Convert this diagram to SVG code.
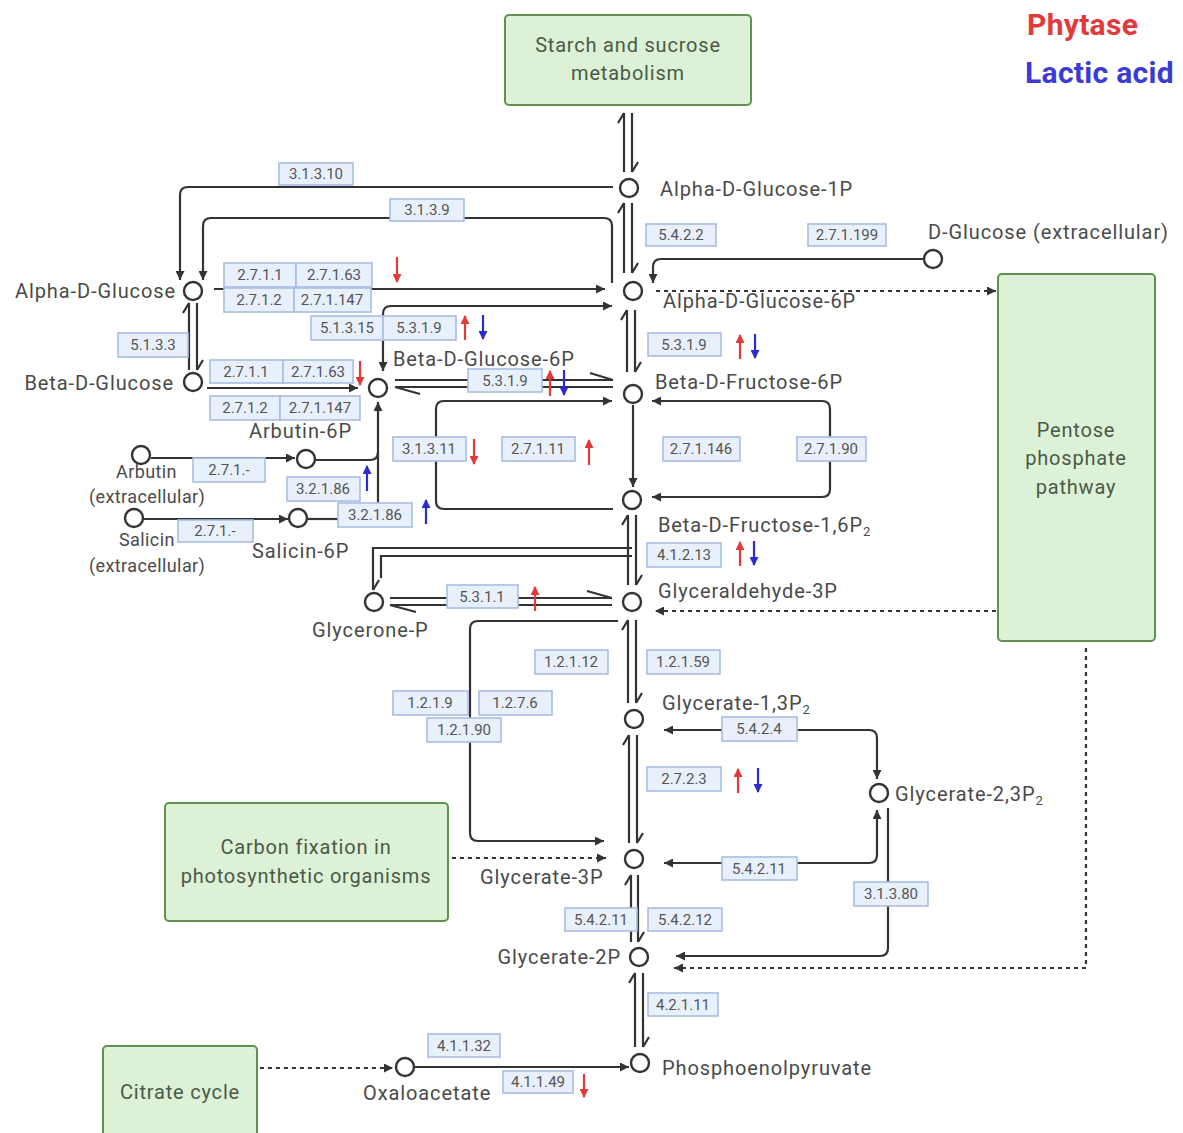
<svg xmlns="http://www.w3.org/2000/svg" width="1183" height="1133" viewBox="0 0 1183 1133">
<defs>
<style>
.ln{fill:none;stroke:#333;stroke-width:2.2}
.dl{fill:none;stroke:#333;stroke-width:2.2;stroke-dasharray:4 4}
.nd{fill:#fff;stroke:#333;stroke-width:2.4}
.ez rect{fill:#e8f0fb;stroke:#a9bde3;stroke-width:1.6}
.ez text{font-family:Roboto,"Liberation Sans",sans-serif;font-size:15px;fill:#555;text-anchor:middle}
.lb{font-family:Roboto,"Liberation Sans",sans-serif;font-size:20px;letter-spacing:0.9px;fill:#4a4a4a}
.sm{font-family:Roboto,"Liberation Sans",sans-serif;font-size:18px;letter-spacing:0.4px;fill:#4a4a4a}
.bx rect{fill:#dcf1d5;stroke:#5f9150;stroke-width:2}
.bx text{font-family:Roboto,"Liberation Sans",sans-serif;font-size:20px;letter-spacing:0.8px;fill:#4a5a48;text-anchor:middle}
.ra{fill:none;stroke:#e23a3a;stroke-width:2.2}
.ba{fill:none;stroke:#2b2bcf;stroke-width:2.2}
</style>
<marker id="ah" viewBox="0 0 10 10" refX="10" refY="5" markerWidth="10" markerHeight="9" markerUnits="userSpaceOnUse" orient="auto-start-reverse"><path d="M0,0 L10,5 L0,10 Z" fill="#333"/></marker>
<marker id="mr" viewBox="0 0 10 10" refX="9" refY="5" markerWidth="10" markerHeight="9" markerUnits="userSpaceOnUse" orient="auto"><path d="M0,0 L10,5 L0,10 Z" fill="#e23a3a"/></marker>
<marker id="mb" viewBox="0 0 10 10" refX="9" refY="5" markerWidth="10" markerHeight="9" markerUnits="userSpaceOnUse" orient="auto"><path d="M0,0 L10,5 L0,10 Z" fill="#2b2bcf"/></marker>
</defs>
<rect width="1183" height="1133" fill="#fff"/>

<!-- legend -->
<text x="1027" y="35" font-family="Roboto,'Liberation Sans',sans-serif" font-size="30" font-weight="bold" letter-spacing="0.3" fill="#e23a3a">Phytase</text>
<text x="1025" y="83" font-family="Roboto,'Liberation Sans',sans-serif" font-size="30" font-weight="bold" letter-spacing="0.3" fill="#3a3ad6">Lactic acid</text>

<!-- pathway boxes -->
<g id="starch" class="bx"><rect x="505" y="15" width="246" height="90" rx="4"/><text x="628" y="52">Starch and sucrose</text><text x="628" y="80">metabolism</text></g>
<g id="pentose" class="bx"><rect x="998" y="274" width="157" height="367" rx="4"/><text x="1076" y="437">Pentose</text><text x="1076" y="465">phosphate</text><text x="1076" y="494">pathway</text></g>
<g id="carbon" class="bx"><rect x="165" y="803" width="283" height="118" rx="4"/><text x="306" y="854">Carbon fixation in</text><text x="306" y="883">photosynthetic organisms</text></g>
<g id="citrate" class="bx"><rect x="103" y="1046" width="154" height="95" rx="4"/><text x="180" y="1099">Citrate cycle</text></g>

<!-- connectors -->
<g id="connectors">
<path class="ln" d="M624,113 V172 M624,113 L618,123 M632,113 V172 M632,172 L638,162"/>
<path class="ln" d="M624,203 V273 M624,203 L618,213 M632,203 V273 M632,273 L638,263"/>
<path class="ln" d="M627,310 V372 M627,310 L621,320 M635,310 V372 M635,372 L641,362"/>
<path class="ln" d="M628,515 V585 M628,515 L622,525 M636,515 V585 M636,585 L642,575"/>
<path class="ln" d="M628,620 V703 M628,620 L622,630 M636,620 V703 M636,703 L642,693"/>
<path class="ln" d="M629,735 V843 M629,735 L623,745 M637,735 V843 M637,843 L643,833"/>
<path class="ln" d="M631,875 V942 M631,875 L625,885 M638,875 V942 M638,942 L644,932"/>
<path class="ln" d="M635,973 V1047 M635,973 L629,983 M643,973 V1047 M643,1047 L649,1037"/>
<path class="ln" d="M189,303 V370 M189,303 L183,313 M197,303 V370 M197,370 L203,360"/>
<path class="ln" d="M395,380 H613 M613,380 L590,373 M395,387 H613 M395,387 L420,394"/>
<path class="ln" d="M390,598 H612 M612,598 L587,591 M390,605 H612 M390,605 L416,612"/>
<path class="ln" d="M632,548 H373 V590 M373,590 L379,580 M632,556 H381 V578"/>
<path class="ln" d="M633,405 V487" marker-end="url(#ah)"/>
<path class="ln" d="M613,509 H444 Q436,509 436,501 V409 Q436,401 444,401 H612" marker-end="url(#ah)"/>
<path class="ln" d="M652,401 H822 Q830,401 830,409 V489 Q830,497 822,497 H652" marker-start="url(#ah)" marker-end="url(#ah)"/>
<path class="ln" d="M613,187 H188 Q180,187 180,195 V280" marker-end="url(#ah)"/>
<path class="ln" d="M612,283 V226 Q612,218 604,218 H211 Q203,218 203,226 V280" marker-end="url(#ah)"/>
<path class="ln" d="M214,289 H605" marker-end="url(#ah)"/>
<path class="ln" d="M383,371 V314 Q383,306 391,306 H612" marker-start="url(#ah)" marker-end="url(#ah)"/>
<path class="ln" d="M207,388 H358" marker-end="url(#ah)"/>
<path class="ln" d="M378,503 V402" marker-end="url(#ah)"/>
<path class="ln" d="M316,460 H370 Q378,460 378,452"/>
<path class="ln" d="M308,519 H338"/>
<path class="ln" d="M151,458 H295" marker-end="url(#ah)"/>
<path class="ln" d="M143,519 H288" marker-end="url(#ah)"/>
<path class="ln" d="M923,259 H661 Q653,259 653,267 V283" marker-end="url(#ah)"/>
<path class="ln" d="M618,621 H478 Q470,621 470,629 V833 Q470,841 478,841 H604" marker-end="url(#ah)"/>
<path class="ln" d="M877,779 V738 Q877,730 869,730 H664" marker-start="url(#ah)" marker-end="url(#ah)"/>
<path class="ln" d="M877,810 V855 Q877,863 869,863 H664" marker-start="url(#ah)" marker-end="url(#ah)"/>
<path class="ln" d="M888,808 V948 Q888,956 880,956 H676" marker-end="url(#ah)"/>
<path class="ln" d="M415,1067 H629" marker-end="url(#ah)"/>
<path class="dl" d="M656,291 H996" marker-end="url(#ah)"/>
<path class="dl" d="M996,611 H655" marker-end="url(#ah)"/>
<path class="dl" d="M1086,648 V968 H674" marker-end="url(#ah)"/>
<path class="dl" d="M452,858 H606" marker-end="url(#ah)"/>
<path class="dl" d="M260,1068 H393" marker-end="url(#ah)"/>
</g>

<!-- enzyme labels -->
<g id="enzymes" class="ez">
<g><rect x="279" y="163" width="74" height="22"/><text x="316" y="179">3.1.3.10</text></g>
<g><rect x="390" y="199" width="74" height="22"/><text x="427" y="215">3.1.3.9</text></g>
<g><rect x="646" y="224" width="70" height="22"/><text x="681" y="240">5.4.2.2</text></g>
<g><rect x="808" y="224" width="78" height="22"/><text x="847" y="240">2.7.1.199</text></g>
<g><rect x="224" y="263" width="72" height="24"/><text x="260" y="280">2.7.1.1</text></g>
<g><rect x="296" y="263" width="76" height="24"/><text x="334" y="280">2.7.1.63</text></g>
<g><rect x="224" y="288" width="70" height="24"/><text x="259" y="305">2.7.1.2</text></g>
<g><rect x="294" y="288" width="77" height="24"/><text x="332" y="305">2.7.1.147</text></g>
<g><rect x="311" y="316" width="72" height="24"/><text x="347" y="333">5.1.3.15</text></g>
<g><rect x="383" y="316" width="73" height="24"/><text x="419" y="333">5.3.1.9</text></g>
<g><rect x="118" y="333" width="70" height="24"/><text x="153" y="350">5.1.3.3</text></g>
<g><rect x="210" y="360" width="73" height="23"/><text x="246" y="377">2.7.1.1</text></g>
<g><rect x="283" y="360" width="70" height="23"/><text x="318" y="377">2.7.1.63</text></g>
<g><rect x="210" y="396" width="70" height="24"/><text x="245" y="413">2.7.1.2</text></g>
<g><rect x="280" y="396" width="80" height="24"/><text x="320" y="413">2.7.1.147</text></g>
<g><rect x="468" y="369" width="74" height="23"/><text x="505" y="386">5.3.1.9</text></g>
<g><rect x="648" y="333" width="73" height="23"/><text x="684" y="350">5.3.1.9</text></g>
<g><rect x="393" y="437" width="73" height="24"/><text x="429" y="454">3.1.3.11</text></g>
<g><rect x="502" y="437" width="73" height="24"/><text x="538" y="454">2.7.1.11</text></g>
<g><rect x="663" y="437" width="77" height="24"/><text x="701" y="454">2.7.1.146</text></g>
<g><rect x="797" y="437" width="69" height="24"/><text x="831" y="454">2.7.1.90</text></g>
<g><rect x="193" y="458" width="72" height="24"/><text x="229" y="475">2.7.1.-</text></g>
<g><rect x="287" y="477" width="73" height="24"/><text x="323" y="494">3.2.1.86</text></g>
<g><rect x="338" y="503" width="74" height="24"/><text x="375" y="520">3.2.1.86</text></g>
<g><rect x="178" y="520" width="75" height="22"/><text x="215" y="536">2.7.1.-</text></g>
<g><rect x="647" y="543" width="74" height="24"/><text x="684" y="560">4.1.2.13</text></g>
<g><rect x="447" y="585" width="71" height="23"/><text x="482" y="602">5.3.1.1</text></g>
<g><rect x="535" y="650" width="73" height="24"/><text x="571" y="667">1.2.1.12</text></g>
<g><rect x="647" y="650" width="73" height="24"/><text x="683" y="667">1.2.1.59</text></g>
<g><rect x="393" y="691" width="75" height="24"/><text x="430" y="708">1.2.1.9</text></g>
<g><rect x="479" y="691" width="73" height="24"/><text x="515" y="708">1.2.7.6</text></g>
<g><rect x="427" y="718" width="74" height="24"/><text x="464" y="735">1.2.1.90</text></g>
<g><rect x="722" y="717" width="75" height="24"/><text x="759" y="734">5.4.2.4</text></g>
<g><rect x="647" y="767" width="74" height="24"/><text x="684" y="784">2.7.2.3</text></g>
<g><rect x="722" y="857" width="75" height="23"/><text x="759" y="874">5.4.2.11</text></g>
<g><rect x="854" y="882" width="74" height="24"/><text x="891" y="899">3.1.3.80</text></g>
<g><rect x="565" y="908" width="72" height="23"/><text x="601" y="925">5.4.2.11</text></g>
<g><rect x="648" y="908" width="74" height="23"/><text x="685" y="925">5.4.2.12</text></g>
<g><rect x="648" y="993" width="70" height="23"/><text x="683" y="1010">4.2.1.11</text></g>
<g><rect x="428" y="1034" width="72" height="23"/><text x="464" y="1051">4.1.1.32</text></g>
<g><rect x="503" y="1071" width="70" height="22"/><text x="538" y="1087">4.1.1.49</text></g>
</g>

<!-- regulation arrows -->
<g id="regulation">
<path class="ra" d="M397,257 V282" marker-end="url(#mr)"/>
<path class="ra" d="M465,340 V316" marker-end="url(#mr)"/>
<path class="ba" d="M483,315 V339" marker-end="url(#mb)"/>
<path class="ra" d="M360,361 V385" marker-end="url(#mr)"/>
<path class="ra" d="M550,396 V371" marker-end="url(#mr)"/>
<path class="ba" d="M564,370 V395" marker-end="url(#mb)"/>
<path class="ra" d="M740,359 V335" marker-end="url(#mr)"/>
<path class="ba" d="M755,334 V358" marker-end="url(#mb)"/>
<path class="ra" d="M474,439 V464" marker-end="url(#mr)"/>
<path class="ra" d="M589,465 V440" marker-end="url(#mr)"/>
<path class="ba" d="M367,491 V466" marker-end="url(#mb)"/>
<path class="ba" d="M426,524 V500" marker-end="url(#mb)"/>
<path class="ra" d="M740,566 V542" marker-end="url(#mr)"/>
<path class="ba" d="M754,541 V565" marker-end="url(#mb)"/>
<path class="ra" d="M535,611 V587" marker-end="url(#mr)"/>
<path class="ra" d="M738,793 V769" marker-end="url(#mr)"/>
<path class="ba" d="M758,768 V792" marker-end="url(#mb)"/>
<path class="ra" d="M584,1074 V1097" marker-end="url(#mr)"/>
</g>

<!-- compound nodes -->
<g id="alpha-d-glucose-1p"><circle class="nd" cx="629" cy="188" r="9"/><text class="lb" x="660" y="196">Alpha-D-Glucose-1P</text></g>
<g id="d-glucose-ext"><circle class="nd" cx="933" cy="259" r="9"/><text class="lb" x="928" y="239">D-Glucose (extracellular)</text></g>
<g id="alpha-d-glucose-6p"><circle class="nd" cx="633" cy="291" r="9"/><text class="lb" x="663" y="308">Alpha-D-Glucose-6P</text></g>
<g id="beta-d-fructose-6p"><circle class="nd" cx="633" cy="394" r="9"/><text class="lb" x="655" y="389">Beta-D-Fructose-6P</text></g>
<g id="alpha-d-glucose"><circle class="nd" cx="193" cy="291" r="9"/><text class="lb" x="176" y="298" text-anchor="end">Alpha-D-Glucose</text></g>
<g id="beta-d-glucose"><circle class="nd" cx="193" cy="382" r="9"/><text class="lb" x="174" y="390" text-anchor="end">Beta-D-Glucose</text></g>
<g id="beta-d-glucose-6p"><circle class="nd" cx="378" cy="388" r="9"/><text class="lb" x="393" y="366">Beta-D-Glucose-6P</text></g>
<g id="arbutin-6p"><circle class="nd" cx="306" cy="459" r="9"/><text class="lb" x="249" y="438">Arbutin-6P</text></g>
<g id="arbutin-ext"><circle class="nd" cx="141" cy="455" r="9"/><text class="sm" x="116" y="478">Arbutin</text><text class="sm" x="89" y="503">(extracellular)</text></g>
<g id="salicin-ext"><circle class="nd" cx="134" cy="518" r="9"/><text class="sm" x="119" y="546">Salicin</text><text class="sm" x="89" y="572">(extracellular)</text></g>
<g id="salicin-6p"><circle class="nd" cx="298" cy="518" r="9"/><text class="lb" x="252" y="558">Salicin-6P</text></g>
<g id="beta-d-fructose-16p2"><circle class="nd" cx="632" cy="500" r="9"/><text class="lb" x="658" y="532">Beta-D-Fructose-1,6P<tspan font-size="13" dy="4">2</tspan></text></g>
<g id="glyceraldehyde-3p"><circle class="nd" cx="632" cy="602" r="9"/><text class="lb" x="658" y="598">Glyceraldehyde-3P</text></g>
<g id="glycerone-p"><circle class="nd" cx="374" cy="602" r="9"/><text class="lb" x="312" y="637">Glycerone-P</text></g>
<g id="glycerate-13p2"><circle class="nd" cx="634" cy="719" r="9"/><text class="lb" x="662" y="710">Glycerate-1,3P<tspan font-size="13" dy="4">2</tspan></text></g>
<g id="glycerate-23p2"><circle class="nd" cx="879" cy="793" r="9"/><text class="lb" x="895" y="801">Glycerate-2,3P<tspan font-size="13" dy="4">2</tspan></text></g>
<g id="glycerate-3p"><circle class="nd" cx="634" cy="859" r="9"/><text class="lb" x="480" y="884">Glycerate-3P</text></g>
<g id="glycerate-2p"><circle class="nd" cx="639" cy="957" r="9"/><text class="lb" x="621" y="964" text-anchor="end">Glycerate-2P</text></g>
<g id="phosphoenolpyruvate"><circle class="nd" cx="640" cy="1063" r="9"/><text class="lb" x="662" y="1075">Phosphoenolpyruvate</text></g>
<g id="oxaloacetate"><circle class="nd" cx="405" cy="1067" r="9"/><text class="lb" x="363" y="1100">Oxaloacetate</text></g>
</svg>
